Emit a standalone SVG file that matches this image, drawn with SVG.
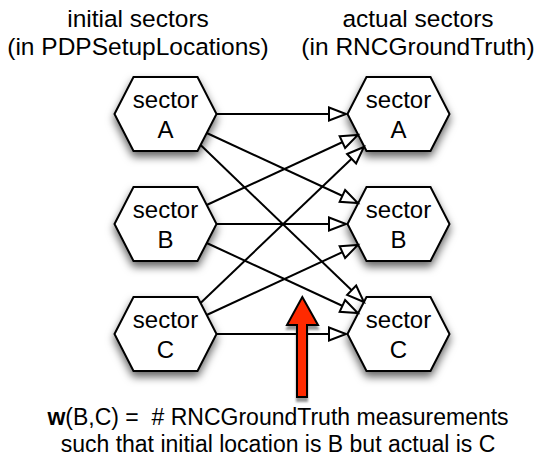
<svg xmlns="http://www.w3.org/2000/svg" width="553" height="463" viewBox="0 0 553 463">
<style>
text{font-family:"Liberation Sans",Arial,Helvetica,sans-serif;font-size:24px;fill:#000;text-anchor:middle}
.hd{font-size:24.5px}
.cap{font-size:23px}
.hex{fill:#fff;stroke:#000;stroke-width:2;stroke-linejoin:miter}
.edge{stroke:#000;stroke-width:2;fill:none;marker-end:url(#open)}
</style>
<defs>
<filter id="sh" x="-30%" y="-30%" width="160%" height="170%">
<feDropShadow dx="0" dy="5" stdDeviation="4.5" flood-color="#000" flood-opacity="0.6"/>
</filter>
<filter id="sh2" x="-30%" y="-30%" width="160%" height="160%">
<feDropShadow dx="0" dy="4" stdDeviation="0.8" flood-color="#000" flood-opacity="0.4"/>
</filter>
<marker id="open" markerUnits="userSpaceOnUse" markerWidth="22" markerHeight="18" refX="17" refY="7" orient="auto" overflow="visible">
<path d="M0,0.5 L17,7 L0,13.5 z" fill="#fff" stroke="#000" stroke-width="2" stroke-linejoin="miter"/>
</marker>
<polygon id="hx" points="-51,0 -32,-37 32,-37 51,0 32,37 -32,37"/>
</defs>
<g id="headers">
<text class="hd" x="138" y="27">initial sectors</text>
<text class="hd" x="138" y="55">(in PDPSetupLocations)</text>
<text class="hd" x="418" y="27">actual sectors</text>
<text class="hd" x="418" y="55">(in RNCGroundTruth)</text>
</g>
<g id="initA" transform="translate(165.5,114)"><use href="#hx" class="hex" filter="url(#sh)"/><text y="-6">sector</text><text y="24">A</text></g>
<g id="initB" transform="translate(165.5,224)"><use href="#hx" class="hex" filter="url(#sh)"/><text y="-6">sector</text><text y="24">B</text></g>
<g id="initC" transform="translate(165.5,334)"><use href="#hx" class="hex" filter="url(#sh)"/><text y="-6">sector</text><text y="24">C</text></g>
<g id="actA" transform="translate(398.5,114)"><use href="#hx" class="hex" filter="url(#sh)"/><text y="-6">sector</text><text y="24">A</text></g>
<g id="actB" transform="translate(398.5,224)"><use href="#hx" class="hex" filter="url(#sh)"/><text y="-6">sector</text><text y="24">B</text></g>
<g id="actC" transform="translate(398.5,334)"><use href="#hx" class="hex" filter="url(#sh)"/><text y="-6">sector</text><text y="24">C</text></g>
<g id="connectors">
<line class="edge" x1="216.5" y1="114" x2="346" y2="114"/>
<line class="edge" x1="206.7" y1="133" x2="357.8" y2="203"/>
<line class="edge" x1="200.6" y1="145" x2="363.9" y2="302"/>
<line class="edge" x1="206.7" y1="205" x2="357.8" y2="135"/>
<line class="edge" x1="216.5" y1="224" x2="346" y2="224"/>
<line class="edge" x1="206.7" y1="243" x2="357.8" y2="313"/>
<line class="edge" x1="200.6" y1="303" x2="363.9" y2="147"/>
<line class="edge" x1="206.7" y1="315" x2="357.8" y2="245"/>
<line class="edge" x1="216.5" y1="334" x2="346" y2="334"/>
</g>
<g id="pointer">
<polygon points="302.3,297 318,325 307,325 307,397 297,397 297,325 287,325" fill="#ff2a00" stroke="#000" stroke-width="2" stroke-linejoin="miter" filter="url(#sh2)"/>
</g>
<g id="caption">
<text class="cap" x="278" y="425"><tspan font-weight="bold">w</tspan>(B,C) =&#160; # RNCGroundTruth measurements</text>
<text class="cap" x="278" y="452">such that initial location is B but actual is C</text>
</g>
</svg>
